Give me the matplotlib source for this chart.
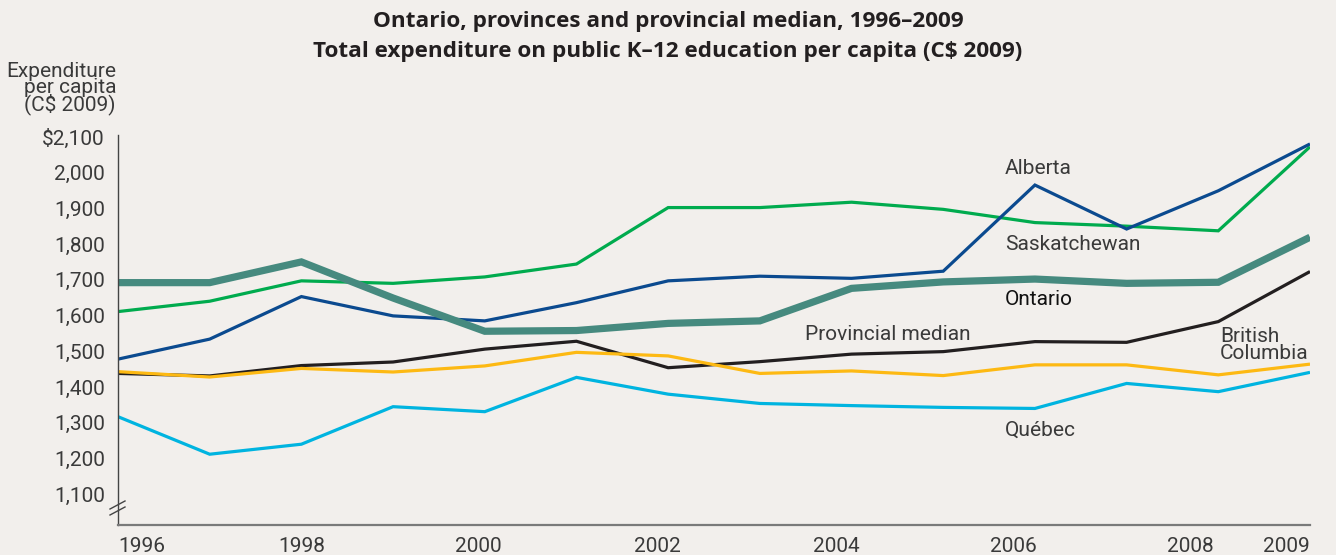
import matplotlib
matplotlib.use("Agg")
import matplotlib.pyplot as plt
from matplotlib.lines import Line2D

years = list(range(1996, 2010))
ontario = [1692, 1692, 1750, 1649, 1556, 1558, 1578, 1585, 1676, 1694, 1702, 1690, 1693, 1819]
alberta = [1478, 1534, 1653, 1599, 1585, 1636, 1697, 1710, 1704, 1724, 1965, 1842, 1949, 2080]
saskatchewan = [1611, 1640, 1697, 1690, 1708, 1744, 1902, 1902, 1917, 1897, 1860, 1850, 1837, 2072]
median = [1438, 1431, 1460, 1470, 1506, 1528, 1454, 1471, 1492, 1499, 1527, 1525, 1583, 1723]
british_columbia = [1443, 1428, 1452, 1442, 1459, 1497, 1487, 1438, 1445, 1432, 1462, 1462, 1434, 1464]
quebec = [1317, 1212, 1240, 1345, 1331, 1427, 1380, 1354, 1348, 1343, 1340, 1410, 1387, 1441]

ytick_values = [1100, 1200, 1300, 1400, 1500, 1600, 1700, 1800, 1900, 2000, 2100]
ytick_labels = ["1,100", "1,200", "1,300", "1,400", "1,500", "1,600", "1,700",
                "1,800", "1,900", "2,000", "$2,100"]
xtick_labels = ["1996", "1998", "2000", "2002", "2004", "2006", "2008", "2009"]
xtick_pos = [1996.0, 1998.0, 1999.93, 2001.88, 2003.83, 2005.76, 2007.69, 2009.0]

BG = "#f2efec"
TXT = "#3a3a3a"
FONT = ["Roboto", "DejaVu Sans"]
FS = 15

plt.rcParams["font.family"] = FONT

fig = plt.figure(figsize=(13.36, 5.55), dpi=100, facecolor=BG)
ax = fig.add_axes([118/1336, 1-525/555, (1310-118)/1336, (525-135)/555])
ax.set_facecolor(BG)

series = [
    (median, "#231f20", 2.3),
    (british_columbia, "#fdb913", 2.3),
    (quebec, "#00b4e0", 2.3),
    (saskatchewan, "#00ab4e", 2.3),
    (alberta, "#0b4a8f", 2.3),
    (ontario, "#468a7f", 5.2),
]
for vals, col, lw in series:
    ax.plot(years, vals, color=col, lw=lw, solid_joinstyle="miter", solid_capstyle="butt")

ax.set_xlim(1996, 2009)
ax.set_ylim(1014, 2105)

ax.set_yticks(ytick_values)
ax.set_yticklabels(ytick_labels)
ax.set_xticks(xtick_pos)
ax.set_xticklabels(xtick_labels)
ax.tick_params(axis="both", length=0, labelsize=FS, colors=TXT, labelcolor=TXT)
ax.tick_params(axis="y", pad=9.5)
ax.tick_params(axis="x", pad=8.5)
xl = ax.get_xticklabels()
xl[0].set_horizontalalignment("left")
xl[-1].set_horizontalalignment("right")

for s in ["top", "right"]:
    ax.spines[s].set_visible(False)
ax.spines["left"].set_color("#444444")
ax.spines["left"].set_linewidth(1.0)
ax.spines["bottom"].set_color("#7a7a7a")
ax.spines["bottom"].set_linewidth(1.6)

# axis break marks
for dy in (0, 6):
    fig.add_artist(Line2D([110/1336, 125/1336], [1-(515-dy)/555, 1-(507-dy)/555],
                          transform=fig.transFigure, color="#444444", lw=1.0))

# series labels
lab_kw = dict(fontsize=FS, color=TXT, fontweight="normal", va="center", ha="left")
ax.text(2005.67, 2012, "Alberta", **lab_kw)
ax.text(2005.67, 1800, "Saskatchewan", **lab_kw)
ax.text(2005.67, 1646, "Ontario", fontsize=FS, color="#111111", fontweight="normal",
        va="center", ha="left")
ax.text(2003.49, 1546, "Provincial median", **lab_kw)
ax.text(2008.02, 1517, "British\nColumbia", fontsize=FS, color=TXT, fontweight="normal",
        va="center", ha="left", linespacing=0.85)
ax.text(2005.67, 1280, "Québec", **lab_kw)

# y-axis title
fig.text(116/1336, 1-62/555, "Expenditure\nper capita\n(C$ 2009)", ha="right", va="top",
         fontsize=FS, color=TXT, fontweight="normal", linespacing=0.78)

# chart title
TFONT = ["Open Sans", "DejaVu Sans"]
fig.text(0.5, 1-22/555, "Ontario, provinces and provincial median, 1996–2009",
         ha="center", va="center", fontsize=16.2, fontweight="bold", color="#231f20",
         family=TFONT)
fig.text(0.5, 1-52/555, "Total expenditure on public K–12 education per capita (C$ 2009)",
         ha="center", va="center", fontsize=16.2, fontweight="bold", color="#231f20",
         family=TFONT)

fig.savefig("out.png", dpi=100, facecolor=BG)
